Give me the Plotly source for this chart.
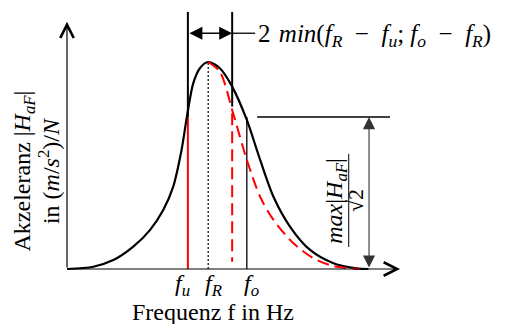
import plotly.graph_objects as go

# ---------------- data (schematic) ----------------
# black resonance curve |H_aF|(f), normalised to peak = 1
freq_black = [0.00, 0.79, 1.39, 1.99, 2.49, 2.89, 3.19, 3.44, 3.62, 3.79, 3.99, 4.24,
              4.59, 4.96, 5.40, 5.80, 6.20, 6.70, 7.30, 8.00, 8.70, 9.05]
amp_black = [0.000, 0.011, 0.043, 0.108, 0.188, 0.285, 0.398, 0.575, 0.755, 0.897, 0.970, 1.000,
             0.970, 0.881, 0.720, 0.527, 0.349, 0.204, 0.092, 0.028, 0.003, 0.000]

# red dashed (symmetric-bandwidth) curve, right flank only
freq_red = [4.24, 4.59, 4.99, 5.40, 5.80, 6.20, 6.80, 7.40, 8.00, 8.80]
amp_red = [1.000, 0.953, 0.752, 0.527, 0.349, 0.237, 0.124, 0.052, 0.014, 0.000]

# characteristic frequencies
f_u = 3.63
f_R = 4.24
f_o = 5.40
f_band = 4.96          # f_u + 2*min(...)

# characteristic levels
level_hp = 0.734       # max|H|/sqrt(2)
level_top = 1.242      # top of the band markers
level_band = 1.139     # height of the band arrow
level_band_black = 0.785
level_band_red = (0.035, 0.752)

# axis extents
x_axis_end = 10.0
y_axis_end = 1.195

# dimension lines
hp_line = (5.71, 9.70)
hp_arrow_x = 9.07
band_ext_end = 5.65
frac_bar = (0.106, 0.556)

tick_labels = ["<i>f</i><sub><i>u</i></sub>", "<i>f</i><sub><i>R</i></sub>", "<i>f</i><sub><i>o</i></sub>"]
SP = "\u2002"
band_label = ("2\u2004<i>min</i>(<i>f</i><sub><i>R</i></sub>" + SP + "−" + SP + "<i>f</i><sub><i>u</i></sub>; "
              "<i>f</i><sub><i>o</i></sub>" + SP + "−" + SP + "<i>f</i><sub><i>R</i></sub>)")
y_title = ["Akzeleranz |<i>H</i><sub><i>aF</i></sub>|", "in (<i>m</i>/<i>s</i><sup>2</sup>)/<i>N</i>"]
x_title = "Frequenz f in Hz"
frac_num = "<i>max</i>|<i>H</i><sub><i>aF</i></sub>|"
frac_den = "√2"

# ---------------- figure ----------------
FONT = "Liberation Serif"
FS = 24
RED = "#ff0000"
# page body has an 8 px margin; the origin of the sketch sits at page pixel (67, 269)
PX_F = 33.3            # pixels per frequency unit
PX_A = 207.0           # pixels per amplitude unit
ORIG_X = 67 - 8
ORIG_Y = 269 - 8
W, H = 505, 324

fig = go.Figure()

def seg(x, y, **line):
    fig.add_trace(go.Scatter(x=x, y=y, mode="lines", line=line, hoverinfo="skip"))

# band marker lines (black upper parts)
seg([f_u, f_u], [level_top, level_hp], color="black", width=2)
seg([f_band, f_band], [level_top, level_band_black], color="black", width=2)
# red lower parts
seg([f_u, f_u], [level_hp, 0], color=RED, width=2)
seg([f_band, f_band], [level_band_red[1], level_band_red[0]], color=RED, width=2, dash="12px,6px")
# f_R dotted, f_o thin
seg([f_R, f_R], [0, 1.0], color="black", width=1.2, dash="2px,2px")
seg([f_o, f_o], [0, level_hp], color="black", width=1.3)
# half-power horizontal line
seg(list(hp_line), [level_hp, level_hp], color="black", width=1.5)
# band extension line
seg([f_band, band_ext_end], [level_band, level_band], color="black", width=1.3)

# curves
fig.add_trace(go.Scatter(x=freq_black, y=amp_black, mode="lines",
                         line=dict(color="black", width=2.2, shape="spline", smoothing=0.8),
                         hoverinfo="skip"))
fig.add_trace(go.Scatter(x=freq_red, y=amp_red, mode="lines",
                         line=dict(color=RED, width=2, dash="12px,6px", shape="spline", smoothing=0.8),
                         hoverinfo="skip"))

ann = []
arrow_common = dict(xref="x", yref="y", axref="x", ayref="y", text="", showarrow=True,
                    standoff=0, startstandoff=0)
# axes with open arrow heads
ann.append(dict(x=x_axis_end, y=0, ax=0, ay=0, arrowhead=5, arrowsize=2.2, arrowwidth=1.2,
                arrowcolor="black", **arrow_common))
ann.append(dict(x=0, y=y_axis_end, ax=0, ay=0, arrowhead=5, arrowsize=2.2, arrowwidth=1.2,
                arrowcolor="black", **arrow_common))
# band double arrow
ann.append(dict(x=f_band, y=level_band, ax=f_u, ay=level_band, arrowside="end+start",
                arrowhead=2, startarrowhead=2, arrowsize=2.0, startarrowsize=2.0,
                arrowwidth=1.3, arrowcolor="black", **arrow_common))
# half-power double arrow
ann.append(dict(x=hp_arrow_x, y=level_hp, ax=hp_arrow_x, ay=0, arrowside="end+start",
                arrowhead=2, startarrowhead=2, arrowsize=2.2, startarrowsize=2.2,
                arrowwidth=1.1, arrowcolor="#333", **arrow_common))

def txt(x, y, t, size=FS, family=FONT, **kw):
    d = dict(x=x, y=y, xref="x", yref="y", text=t, showarrow=False,
             font=dict(family=family, size=size, color="black"))
    d.update(kw)
    ann.append(d)

txt(band_ext_end, level_band, band_label, size=25,
    xanchor="left", yanchor="middle", xshift=1, yshift=-2)
for fx, lab, dx in zip([f_u, f_R, f_o], tick_labels, [-5, 5, 5]):
    txt(fx, 0, lab, xanchor="center", yanchor="top", xshift=dx, yshift=1)
txt(4.38, 0, x_title, xanchor="center", yanchor="top", yshift=-28)
for xx, t in zip([-1.28, -0.54], y_title):
    txt(xx, 0.473, t, textangle=-90, xanchor="center", yanchor="middle")
txt(8.08, 0.330, frac_num, textangle=-90, xanchor="center", yanchor="middle")
txt(8.66, 0.330, frac_den, size=22, textangle=-90, xanchor="center", yanchor="middle")

fig.add_shape(type="line", x0=8.46, x1=8.46, y0=frac_bar[0], y1=frac_bar[1], xref="x", yref="y",
              line=dict(color="black", width=1))

fig.update_layout(
    width=W, height=H,
    margin=dict(l=0, r=0, t=0, b=0),
    paper_bgcolor="white", plot_bgcolor="white",
    showlegend=False,
    xaxis=dict(range=[-ORIG_X / PX_F, (W - ORIG_X) / PX_F], visible=False, fixedrange=True),
    yaxis=dict(range=[(ORIG_Y - H) / PX_A, ORIG_Y / PX_A], visible=False, fixedrange=True),
    annotations=ann,
)

fig.write_html("out.html")
